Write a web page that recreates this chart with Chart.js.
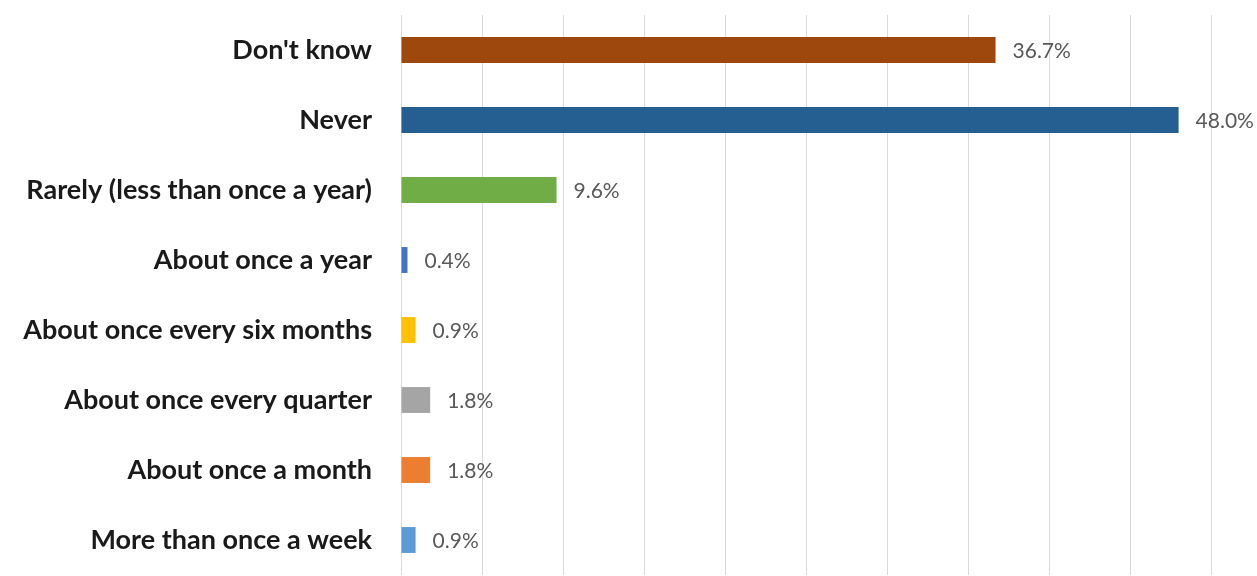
<!DOCTYPE html>
<html>
<head>
<meta charset="utf-8">
<script src="https://cdn.jsdelivr.net/npm/chart.js@4.4.1/dist/chart.umd.min.js"></script>
<style>
  html, body { margin: 0; padding: 0; background: #fff; }
  #wrap { width: 1257px; height: 576px; position: relative; }
</style>
</head>
<body>
<div id="wrap"><canvas id="chart"></canvas></div>
<script>
// answer categories, top to bottom
let answers = [
  "Don't know",
  "Never",
  "Rarely (less than once a year)",
  "About once a year",
  "About once every six months",
  "About once every quarter",
  "About once a month",
  "More than once a week"
]
// share of respondents, percent
let shares = [36.7, 48.0, 9.6, 0.4, 0.9, 1.8, 1.8, 0.9]
let barColors = ["#9e480e", "#255e91", "#70ad47", "#4472c4", "#ffc000", "#a5a5a5", "#ed7d31", "#5b9bd5"]
let axisMax = 50
let axisStep = 5

// draws the "xx.x%" text just past the end of each bar
const valueLabels = {
  id: 'valueLabels',
  afterDatasetsDraw(chart) {
    const ctx = chart.ctx
    const meta = chart.getDatasetMeta(0)
    ctx.save()
    ctx.font = '21px Lato'
    ctx.fillStyle = '#595959'
    ctx.textAlign = 'left'
    ctx.textBaseline = 'middle'
    meta.data.forEach((bar, i) => {
      ctx.fillText(shares[i].toFixed(1) + '%', bar.x + 17, bar.y + 1)
    })
    ctx.restore()
  }
}

let chart = new Chart('chart', {
  type: 'bar',
  data: {
    labels: answers,
    datasets: [{
      data: shares,
      backgroundColor: barColors,
      borderWidth: 0,
      categoryPercentage: 1,
      barPercentage: 0.37
    }]
  },
  options: {
    indexAxis: 'y',
    responsive: true,
    maintainAspectRatio: false,
    animation: false,
    layout: { padding: { top: 15, right: 46, bottom: 1, left: 0 } },
    plugins: {
      legend: { display: false },
      tooltip: { enabled: false }
    },
    scales: {
      x: {
        min: 0,
        max: axisMax,
        ticks: { display: false, stepSize: axisStep },
        grid: { color: '#d9d9d9', lineWidth: 1, drawTicks: false },
        border: { display: false }
      },
      y: {
        // fixed label column, and no extra room above/below the bars
        afterFit(scale) {
          scale.width = 401
          scale.paddingTop = 0
          scale.paddingBottom = 0
        },
        grid: { display: false, drawTicks: false },
        border: { display: false },
        ticks: {
          color: '#1a1a1a',
          padding: 29,
          font: { family: 'Lato', size: 27, weight: 'bold' }
        }
      }
    }
  },
  plugins: [valueLabels]
})
</script>
</body>
</html>
